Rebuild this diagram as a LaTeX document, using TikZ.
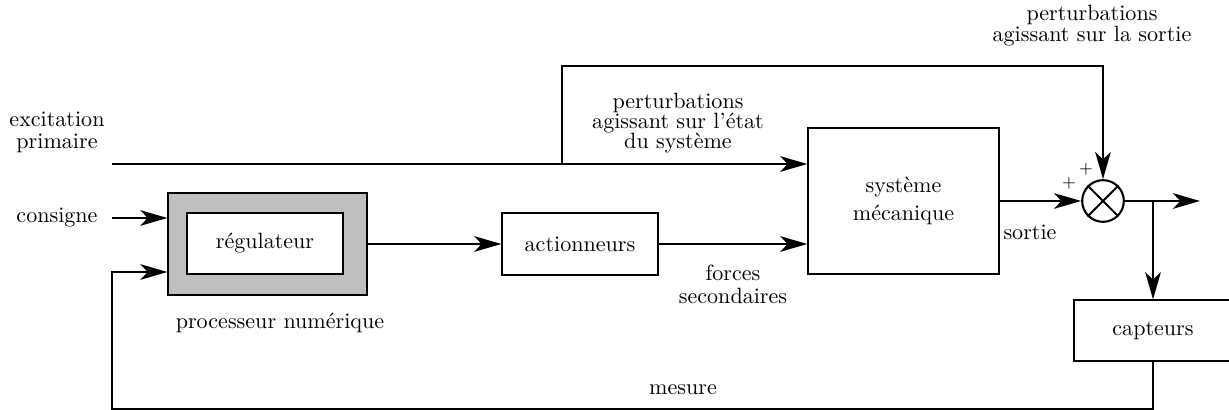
\documentclass[tikz,border=0pt]{standalone}
\usetikzlibrary{arrows.meta}
\begin{document}
\begin{tikzpicture}[x=0.48pt,y=-0.48pt,
  font=\fontsize{10.6pt}{12.5pt}\selectfont,
  conn/.style={line width=1pt},
  arr/.style={conn,-{Stealth[length=13pt,width=7.5pt,inset=3.5pt]}},
  block/.style={draw,line width=0.6pt,inner sep=0pt,align=center,fill=white},
  lbl/.style={align=center,inner sep=0pt},
  sumnode/.style={draw,line width=1pt,circle,minimum size=20pt,inner sep=0pt}]
\useasboundingbox (0,0) rectangle (1229,410);
\clip (0,0) rectangle (1229,410);

% blocks
\node[block,fill=black!25,minimum width=95.5pt,minimum height=49pt] (proc) at (267.5,244) {};
\node[block,minimum width=74.9pt,minimum height=29.3pt] (reg) at (265,243.5) {régulateur};
\node[block,minimum width=74.9pt,minimum height=29.8pt] (act) at (580,244) {actionneurs};
\node[block,minimum width=91.7pt,minimum height=70.1pt,
      font=\fontsize{10.6pt}{13.5pt}\selectfont] (sys) at (903.5,201) {système\\mécanique};
\node[block,minimum width=75.8pt,minimum height=29.3pt] (cap) at (1153,330.5) {capteurs};
\node[sumnode] (sum) at (1103,201) {};
\draw[line width=1pt] (sum.north west) -- (sum.south east) (sum.north east) -- (sum.south west);

% auxiliary points
\coordinate (e0) at (112,164);
\coordinate (br) at (562,164);
\coordinate (tp) at (562,66);
\coordinate (c0) at (112,218);
\coordinate (out) at (1200,201);
\coordinate (ob) at (1153,201);
\coordinate (m0) at (112,409);
\coordinate (m1) at (112,272);

% connectors
\draw[arr] (e0) -- (e0 -| sys.west);
\draw[arr] (br) -- (tp) -| (sum.north);
\draw[arr] (c0) -- (c0 -| proc.west);
\draw[arr] (proc.east) -- (act.west);
\draw[arr] (act.east) -- (act.east -| sys.west);
\draw[arr] (sys.east) -- (sum.west);
\draw[arr] (sum.east) -- (out);
\draw[arr] (ob) -- (cap.north);
\draw[arr] (cap.south) |- (m0) -- (m1) -- (m1 -| proc.west);

% labels
\node[lbl,font=\fontsize{10.6pt}{10.6pt}\selectfont] (lexc) at (57,132) {excitation\\primaire};
\node[lbl] (lcons) at (57,218) {consigne};
\node[lbl] (lproc) at (280,323) {processeur numérique};
\node[lbl,font=\fontsize{10.6pt}{11pt}\selectfont] (lforce) at (733,284) {forces\\secondaires};
\node[lbl] (lsort) at (1030,232) {sortie};
\node[lbl,font=\fontsize{10.6pt}{9.6pt}\selectfont] (lpsys) at (678,123) {perturbations\\agissant sur l'état\\du système};
\node[lbl,font=\fontsize{10.6pt}{10.1pt}\selectfont] (lpout) at (1092,26) {perturbations\\agissant sur la sortie};
\node[lbl] (lmes) at (683,390) {mesure};
\node[lbl,font=\footnotesize] (p1) at (1069,183) {+};
\node[lbl,font=\footnotesize] (p2) at (1086,169) {+};
\end{tikzpicture}
\end{document}
